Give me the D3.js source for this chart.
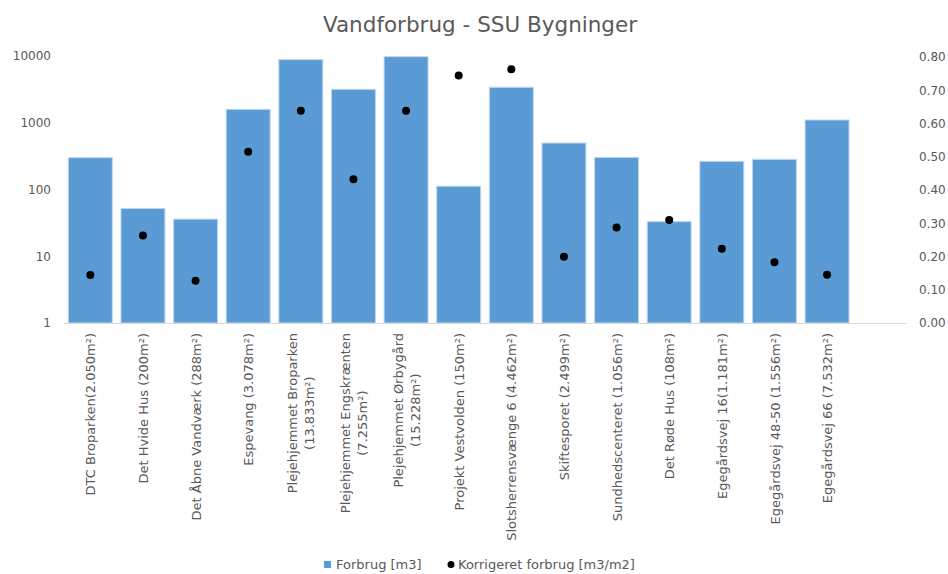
<!DOCTYPE html>
<html>
<head>
<meta charset="utf-8">
<script src="https://cdn.jsdelivr.net/npm/d3@7"></script>
<style>
  html, body { margin: 0; padding: 0; background: #fff; }
  svg { display: block; font-family: "DejaVu Sans", sans-serif; }
</style>
</head>
<body>
<svg id="chart" width="948" height="574"></svg>
<script>
const categories = [
  "DTC Broparken(2.050m²)",
  "Det Hvide Hus (200m²)",
  "Det Åbne Vandværk (288m²)",
  "Espevang (3.078m²)",
  "Plejehjemmet Broparken\n(13.833m²)",
  "Plejehjemmet Engskrænten\n(7.255m²)",
  "Plejehjemmet Ørbygård\n(15.228m²)",
  "Projekt Vestvolden (150m²)",
  "Slotsherrensvænge 6 (4.462m²)",
  "Skiftesporet (2.499m²)",
  "Sundhedscenteret (1.056m²)",
  "Det Røde Hus (108m²)",
  "Egegårdsvej 16(1.181m²)",
  "Egegårdsvej 48-50 (1.556m²)",
  "Egegårdsvej 66 (7.532m²)"
];
const forbrug = [300, 52, 36, 1590, 8850, 3170, 9770, 112, 3400, 497, 303, 33, 264, 283, 1100];
const korrigeret = [0.144, 0.263, 0.127, 0.515, 0.638, 0.432, 0.638, 0.744, 0.763, 0.199, 0.287, 0.310, 0.223, 0.183, 0.145];
const leftTicks = [1, 10, 100, 1000, 10000];
const rightTicks = [0, 0.1, 0.2, 0.3, 0.4, 0.5, 0.6, 0.7, 0.8];
const seriesNames = ["Forbrug [m3]", "Korrigeret forbrug [m3/m2]"];
const title = "Vandforbrug - SSU Bygninger";

(function () {
const svg = d3.select("#chart");
const textColor = "#595959";
const barColor = "#5B9BD5";

const pLeft = 64, pRight = 906, pTop = 56, pBottom = 323;
const step = (pRight - pLeft) / 16;

const x = d3.scaleBand()
  .domain(categories)
  .range([pLeft, pLeft + step * categories.length])
  .paddingInner(0.165)
  .paddingOuter(0.0825);

const yL = d3.scaleLog().domain([1, 10000]).range([pBottom, pTop]);
const yR = d3.scaleLinear().domain([0, 0.8]).range([pBottom, pTop + 1]);

// Title
svg.append("text")
  .attr("x", 480).attr("y", 32)
  .attr("text-anchor", "middle")
  .attr("fill", textColor)
  .style("font-size", "21.5px")
  .text(title);

// Bars
svg.append("g").selectAll("rect")
  .data(categories)
  .join("rect")
  .attr("x", d => x(d))
  .attr("width", x.bandwidth())
  .attr("y", (d, i) => yL(forbrug[i]))
  .attr("height", (d, i) => pBottom - yL(forbrug[i]))
  .attr("fill", barColor)
  .attr("stroke", "#BDD7EE")
  .attr("stroke-width", 1);

// Baseline
svg.append("line")
  .attr("x1", pLeft).attr("x2", pRight)
  .attr("y1", pBottom + 0.5).attr("y2", pBottom + 0.5)
  .attr("stroke", "#D9D9D9").attr("stroke-width", 1);

// Left axis
const axL = svg.append("g")
  .attr("transform", `translate(${pLeft},0)`)
  .call(d3.axisLeft(yL).tickValues(leftTicks).tickFormat(d3.format("d")).tickSize(0).tickPadding(13));
axL.select(".domain").remove();
axL.selectAll("text").attr("fill", textColor).style("font-size", "12px").style("font-family", "DejaVu Sans, sans-serif");

// Right axis
const axR = svg.append("g")
  .attr("transform", `translate(${pRight},0)`)
  .call(d3.axisRight(yR).tickValues(rightTicks).tickFormat(d3.format(".2f")).tickSize(0).tickPadding(13));
axR.select(".domain").remove();
axR.selectAll("text").attr("fill", textColor).style("font-size", "12px").style("font-family", "DejaVu Sans, sans-serif");

// Dots
svg.append("g").selectAll("circle")
  .data(categories)
  .join("circle")
  .attr("cx", d => x(d) + x.bandwidth() / 2)
  .attr("cy", (d, i) => yR(korrigeret[i]))
  .attr("r", 4)
  .attr("fill", "#000");

// X labels (rotated)
const lineH = 17;
const lab = svg.append("g").selectAll("g")
  .data(categories)
  .join("g")
  .attr("transform", d => `translate(${x(d) + x.bandwidth() / 2 + 0.5},333) rotate(-90)`);
lab.each(function(d) {
  const g = d3.select(this);
  const lines = d.split("\n");
  const n = lines.length;
  const texts = lines.map((ln, i) => g.append("text")
    .attr("y", (i - (n - 1) / 2) * lineH)
    .attr("dy", "0.35em")
    .attr("text-anchor", "middle")
    .attr("fill", textColor)
    .style("font-size", "13px")
    .text(ln));
  const w = d3.max(texts, t => t.node().getComputedTextLength());
  texts.forEach(t => t.attr("x", -w / 2));
});

// Legend
const leg = svg.append("g");
leg.append("rect").attr("x", 324).attr("y", 561).attr("width", 7).attr("height", 7).attr("fill", barColor);
leg.append("text").attr("x", 336).attr("y", 569).attr("fill", textColor).style("font-size", "13px").text(seriesNames[0]);
leg.append("circle").attr("cx", 451).attr("cy", 564.5).attr("r", 3.5).attr("fill", "#000");
leg.append("text").attr("x", 458).attr("y", 569).attr("fill", textColor).style("font-size", "13px").text(seriesNames[1]);
})();
</script>
</body>
</html>
